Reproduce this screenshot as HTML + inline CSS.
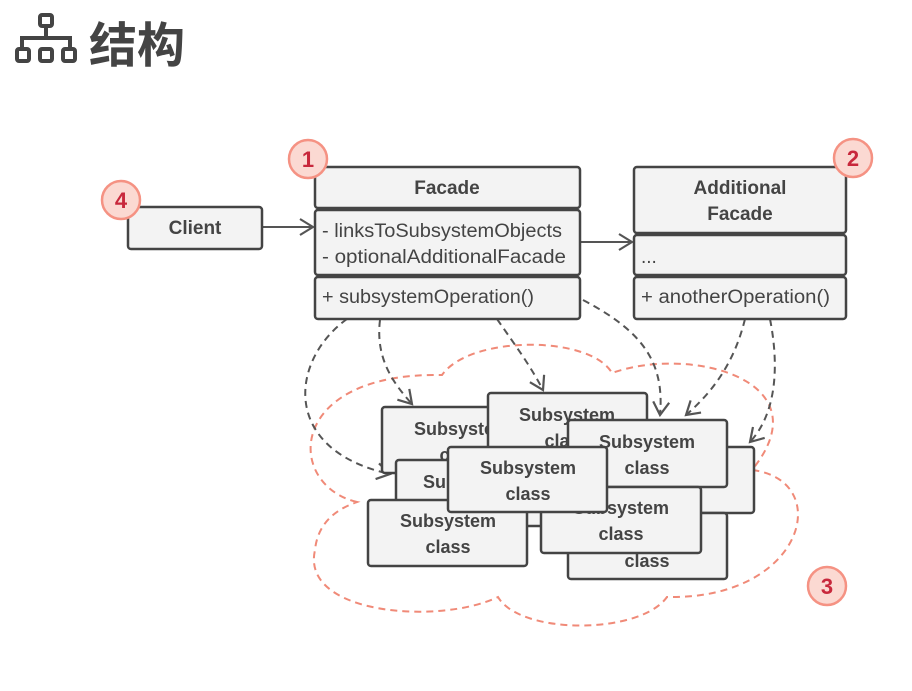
<!DOCTYPE html>
<html><head><meta charset="utf-8"><style>
body{margin:0;background:#fff;}
</style></head><body>
<svg width="912" height="686" viewBox="0 0 912 686" xmlns="http://www.w3.org/2000/svg" font-family="'Liberation Sans','Noto Sans CJK SC',sans-serif">
<defs>
<marker id="ar" markerWidth="16" markerHeight="18" refX="14" refY="9" orient="auto" markerUnits="userSpaceOnUse">
<path d="M1,1 L14,9 L1,17" fill="none" stroke="#555" stroke-width="2.2"/>
</marker>
</defs>
<!-- title icon -->
<g fill="none" stroke="#444" stroke-width="4">
<rect x="40" y="15" width="12" height="11" rx="2"/>
<path d="M46 26 V36 M22 48 V38 H70 V48"/>
<rect x="17" y="49" width="12" height="12" rx="2"/>
<rect x="40" y="49" width="12" height="12" rx="2"/>
<rect x="63" y="49" width="12" height="12" rx="2"/>
</g>
<text x="89" y="62" font-size="48" font-weight="bold" fill="#444">结构</text>

<!-- cloud -->
<path d="M357,502 C285,485 285,372 442,375 C470,335 590,335 612,373 C690,345 825,380 752,470 C835,480 805,600 667,597 C640,635 520,635 498,597 C440,625 300,615 315,550 C318,520 340,508 357,502 Z" fill="none" stroke="#f08a78" stroke-width="2" stroke-dasharray="7,5"/>

<!-- connectors -->
<g fill="none" stroke="#555" stroke-width="2" stroke-dasharray="7,5" marker-end="url(#ar)">
<path d="M347,319 C290,360 280,450 390,474"/>
<path d="M380,320 C375,360 395,385 412,404"/>
<path d="M497,319 C515,345 530,365 543,390"/>
<path d="M583,300 C640,330 665,360 660,415"/>
<path d="M745,319 C735,360 715,390 686,415"/>
<path d="M770,319 C780,370 775,415 750,442"/>
</g>
<g fill="none" stroke="#555" stroke-width="2" marker-end="url(#ar)">
<path d="M262,227 H313"/>
<path d="M580,242 H632"/>
</g>

<g stroke="#444" stroke-width="2.5" fill="#f3f3f3">
<rect x="128" y="207" width="134" height="42" rx="3"/>
<rect x="315" y="167" width="265" height="41" rx="3"/>
<rect x="315" y="210" width="265" height="65" rx="3"/>
<rect x="315" y="277" width="265" height="42" rx="3"/>
<rect x="634" y="167" width="212" height="66" rx="3"/>
<rect x="634" y="235" width="212" height="40" rx="3"/>
<rect x="634" y="277" width="212" height="42" rx="3"/>
</g>
<g font-size="19" fill="#444">
<text x="195" y="234" font-weight="bold" text-anchor="middle">Client</text>
<text x="447" y="194" font-weight="bold" text-anchor="middle">Facade</text>
<text x="322" y="237" textLength="240" lengthAdjust="spacingAndGlyphs">- linksToSubsystemObjects</text>
<text x="322" y="263" textLength="244" lengthAdjust="spacingAndGlyphs">- optionalAdditionalFacade</text>
<text x="322" y="303" textLength="212" lengthAdjust="spacingAndGlyphs">+ subsystemOperation()</text>
<text x="740" y="194" font-weight="bold" text-anchor="middle">Additional</text>
<text x="740" y="220" font-weight="bold" text-anchor="middle">Facade</text>
<text x="641" y="263">...</text>
<text x="641" y="303" textLength="189" lengthAdjust="spacingAndGlyphs">+ anotherOperation()</text>
</g>

<!-- subsystem boxes -->
<g font-size="18" font-weight="bold" fill="#444" text-anchor="middle">
<g><rect x="382" y="407" width="160" height="66" rx="3" fill="#f3f3f3" stroke="#444" stroke-width="2.5"/><text x="462" y="435" fill="#444">Subsystem</text><text x="462" y="461">class</text></g>
<g><rect x="488" y="393" width="159" height="66" rx="3" fill="#f3f3f3" stroke="#444" stroke-width="2.5"/><text x="567" y="421">Subsystem</text><text x="567" y="447">class</text></g>
<g><rect x="595" y="447" width="159" height="66" rx="3" fill="#f3f3f3" stroke="#444" stroke-width="2.5"/></g>
<g><rect x="568" y="420" width="159" height="67" rx="3" fill="#f3f3f3" stroke="#444" stroke-width="2.5"/><text x="647" y="448">Subsystem</text><text x="647" y="474">class</text></g>
<g><rect x="396" y="460" width="150" height="66" rx="3" fill="#f3f3f3" stroke="#444" stroke-width="2.5"/><text x="471" y="488">Subsystem</text></g>
<g><rect x="568" y="513" width="159" height="66" rx="3" fill="#f3f3f3" stroke="#444" stroke-width="2.5"/><text x="647" y="541">Subsystem</text><text x="647" y="567">class</text></g>
<g><rect x="541" y="487" width="160" height="66" rx="3" fill="#f3f3f3" stroke="#444" stroke-width="2.5"/><text x="621" y="514">Subsystem</text><text x="621" y="540">class</text></g>
<g><rect x="368" y="500" width="159" height="66" rx="3" fill="#f3f3f3" stroke="#444" stroke-width="2.5"/><text x="448" y="527">Subsystem</text><text x="448" y="553">class</text></g>
<g><rect x="448" y="447" width="159" height="65" rx="3" fill="#f3f3f3" stroke="#444" stroke-width="2.5"/><text x="528" y="474">Subsystem</text><text x="528" y="500">class</text></g>
</g>

<!-- badges -->
<g stroke="#f59283" stroke-width="2.5" fill="#fbd9d2">
<circle cx="308" cy="159" r="19"/>
<circle cx="121" cy="200" r="19"/>
<circle cx="853" cy="158" r="19"/>
<circle cx="827" cy="586" r="19"/>
</g>
<g font-size="22" font-weight="bold" fill="#c8283c" text-anchor="middle">
<text x="308" y="167">1</text>
<text x="121" y="208">4</text>
<text x="853" y="166">2</text>
<text x="827" y="594">3</text>
</g>
</svg>
</body></html>
